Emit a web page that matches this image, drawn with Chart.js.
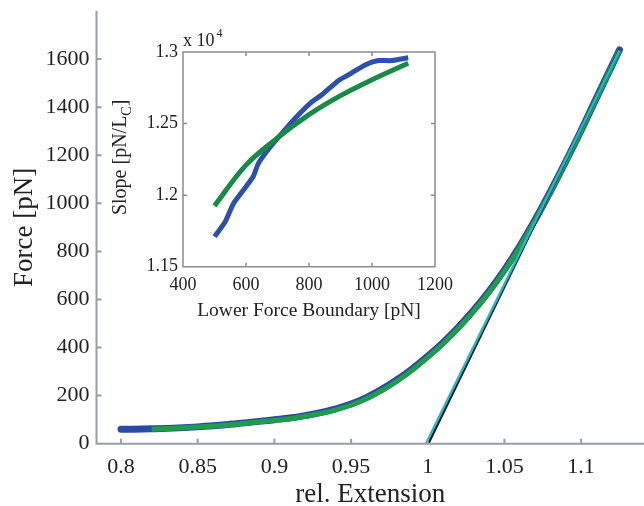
<!DOCTYPE html>
<html>
<head>
<meta charset="utf-8">
<script src="https://cdn.jsdelivr.net/npm/chart.js@4.4.1/dist/chart.umd.min.js"></script>
<style>
body { margin: 0; background: #fff; }
#wrap { position: relative; width: 644px; height: 506px; }
#main { position: absolute; left: 0; top: 0; }
#inset { position: absolute; left: 100px; top: 20px; }
</style>
</head>
<body>
<div id="wrap">
<canvas id="main" width="644" height="506"></canvas>
<canvas id="inset" width="365" height="310"></canvas>
</div>
<script>
// main plot: force vs relative extension
var extData = [0.80, 0.82, 0.85, 0.875, 0.90, 0.91, 0.92, 0.93, 0.94, 0.95, 0.96, 0.97, 0.98, 0.99, 1.00, 1.01, 1.02, 1.03, 1.04, 1.05, 1.06, 1.07, 1.08, 1.09, 1.10, 1.11, 1.125];
var forceData = [60, 62, 70, 83, 100, 107, 117, 129, 145, 165, 192, 226, 266, 312, 364, 421, 485, 556, 635, 723, 822, 932, 1050, 1174, 1303, 1438, 1638];
var extFit = [0.82, 0.85, 0.875, 0.90, 0.91, 0.92, 0.93, 0.94, 0.95, 0.96, 0.97, 0.98, 0.99, 1.00, 1.01, 1.02, 1.03, 1.04, 1.05, 1.06, 1.07, 1.08, 1.09, 1.10, 1.11, 1.125];
var forceFit = [61, 69, 81, 97, 104, 114, 126, 141, 161, 187, 221, 261, 307, 359, 416, 480, 551, 630, 718, 818, 929, 1047, 1172, 1302, 1437, 1636];
var extLinCyan = [0.9988, 1.125];
var forceLinCyan = [0, 1637];
var extLinBlack = [1.0003, 1.125];
var forceLinBlack = [0, 1640];
var mainXTicks = [0.8, 0.85, 0.9, 0.95, 1, 1.05, 1.1];
var mainYTicks = [0, 200, 400, 600, 800, 1000, 1200, 1400, 1600];

// inset: slope vs lower force boundary (x 10^4)
var boundData = [500, 533, 560, 597, 623, 639, 671, 713, 766, 808, 840, 893, 925, 978, 1020, 1062, 1115];
var slopeData = [1.171, 1.181, 1.194, 1.205, 1.213, 1.222, 1.232, 1.243, 1.256, 1.265, 1.270, 1.280, 1.284, 1.291, 1.294, 1.294, 1.296];
var boundFit = [500, 600, 700, 800, 900, 1000, 1115];
var slopeFit = [1.1925, 1.221, 1.240, 1.2562, 1.2695, 1.2806, 1.2921];
var insetXTicks = [400, 600, 800, 1000, 1200];
var insetYTicks = [1.15, 1.2, 1.25, 1.3];

var serif = '"Liberation Serif", "Times New Roman", serif';

function pts(xs, ys) {
    return xs.map(function (x, i) { return { x: x, y: ys[i] }; });
}

// axis lines + inward tick marks, matlab style
var axesLines = {
    id: 'axesLines',
    afterDatasetsDraw: function (chart, args, o) {
        var ctx = chart.ctx, a = chart.chartArea, sx = chart.scales.x, sy = chart.scales.y;
        ctx.save();
        ctx.strokeStyle = o.color;
        ctx.lineWidth = o.width;
        ctx.beginPath();
        if (o.box) {
            ctx.rect(a.left, a.top, a.right - a.left, a.bottom - a.top);
        } else {
            ctx.moveTo(a.left, a.top);
            ctx.lineTo(a.left, a.bottom);
            ctx.lineTo(a.right, a.bottom);
        }
        sx.ticks.forEach(function (t) {
            var px = sx.getPixelForValue(t.value);
            ctx.moveTo(px, a.bottom); ctx.lineTo(px, a.bottom - o.tick);
            if (o.box) { ctx.moveTo(px, a.top); ctx.lineTo(px, a.top + o.tick); }
        });
        sy.ticks.forEach(function (t) {
            var py = sy.getPixelForValue(t.value);
            ctx.moveTo(a.left, py); ctx.lineTo(a.left + o.tick, py);
            if (o.box) { ctx.moveTo(a.right, py); ctx.lineTo(a.right - o.tick, py); }
        });
        ctx.stroke();
        ctx.restore();
    }
};

// exponent and y label with subscript for the inset
var insetLabels = {
    id: 'insetLabels',
    afterDraw: function (chart) {
        var ctx = chart.ctx, a = chart.chartArea;
        ctx.save();
        ctx.fillStyle = '#222';
        ctx.textBaseline = 'alphabetic';
        ctx.font = '18px ' + serif;
        ctx.fillText('x 10', a.left, a.top - 6);
        var w = ctx.measureText('x 10').width;
        ctx.font = '12px ' + serif;
        ctx.fillText('4', a.left + w + 2, a.top - 15);

        var big = '20px ' + serif, small = '14px ' + serif;
        ctx.font = big;
        var w1 = ctx.measureText('Slope [pN/L').width;
        var w3 = ctx.measureText(']').width;
        ctx.font = small;
        var w2 = ctx.measureText('C').width;
        ctx.translate(a.left - 57, (a.top + a.bottom) / 2 - 2);
        ctx.rotate(-Math.PI / 2);
        var x = -(w1 + w2 + w3) / 2;
        ctx.font = big; ctx.fillText('Slope [pN/L', x, 0); x += w1;
        ctx.font = small; ctx.fillText('C', x, 5); x += w2;
        ctx.font = big; ctx.fillText(']', x, 0);
        ctx.restore();
    }
};

function fixTicks(arr) {
    return function (scale) {
        scale.ticks = arr.map(function (v) { return { value: v }; });
    };
}

function fixSize(prop, size) {
    return function (scale) {
        scale[prop] = size;
        scale.paddingLeft = 0; scale.paddingRight = 0;
        scale.paddingTop = 0; scale.paddingBottom = 0;
    };
}

var ctx = document.getElementById('main').getContext('2d');
var mainChart = new Chart(ctx, {
    type: 'line',
    data: {
        datasets: [{
            data: pts(extData, forceData),
            borderColor: '#2b4aa6',
            borderWidth: 7,
            borderCapStyle: 'round',
            borderJoinStyle: 'round',
            tension: 0.4,
            pointRadius: 0,
            order: 3
        }, {
            data: pts(extFit, forceFit),
            borderColor: '#1f9e4a',
            borderWidth: 5,
            tension: 0.4,
            pointRadius: 0,
            order: 2
        }, {
            data: pts(extLinBlack, forceLinBlack),
            borderColor: '#111',
            borderWidth: 2.5,
            pointRadius: 0,
            order: 1
        }, {
            data: pts(extLinCyan, forceLinCyan),
            borderColor: '#22b8cc',
            borderWidth: 2.5,
            pointRadius: 0,
            order: 0
        }]
    },
    options: {
        responsive: false,
        animation: false,
        layout: { padding: { top: 11, right: 0, left: 0, bottom: 0 } },
        plugins: {
            legend: { display: false },
            tooltip: { enabled: false },
            axesLines: { color: '#9a9da2', width: 2, tick: 5, box: false }
        },
        scales: {
            x: {
                type: 'linear',
                min: 0.784,
                max: 1.141,
                afterBuildTicks: fixTicks(mainXTicks),
                afterFit: fixSize('height', 62.3),
                grid: { display: false, drawTicks: false },
                border: { display: false },
                ticks: {
                    color: '#222', padding: 10, maxRotation: 0, autoSkip: false,
                    font: { family: serif, size: 22 },
                    callback: function (v) { return String(v); }
                },
                title: {
                    display: true, text: 'rel. Extension', color: '#222',
                    font: { family: serif, size: 27, lineHeight: 0.85 },
                    padding: { top: 0, bottom: 0 }
                }
            },
            y: {
                type: 'linear',
                min: 0,
                max: 1800,
                afterBuildTicks: fixTicks(mainYTicks),
                afterFit: fixSize('width', 96.5),
                grid: { display: false, drawTicks: false },
                border: { display: false },
                ticks: {
                    color: '#222', padding: 7, autoSkip: false,
                    font: { family: serif, size: 22 },
                    callback: function (v) { return String(v); }
                },
                title: {
                    display: true, text: 'Force [pN]', color: '#222',
                    font: { family: serif, size: 27, lineHeight: 1 },
                    padding: { top: 11, bottom: 0 }
                }
            }
        }
    },
    plugins: [axesLines]
});

var ctxI = document.getElementById('inset').getContext('2d');
var insetChart = new Chart(ctxI, {
    type: 'line',
    data: {
        datasets: [{
            data: pts(boundData, slopeData),
            borderColor: '#2c50ac',
            borderWidth: 5,
            borderJoinStyle: 'round',
            tension: 0.2,
            pointRadius: 0,
            order: 1
        }, {
            data: pts(boundFit, slopeFit),
            borderColor: '#178a45',
            borderWidth: 5,
            tension: 0.4,
            pointRadius: 0,
            order: 0
        }]
    },
    options: {
        responsive: false,
        animation: false,
        layout: { padding: { top: 32, right: 30, left: 0, bottom: 0 } },
        plugins: {
            legend: { display: false },
            tooltip: { enabled: false },
            axesLines: { color: '#8c8c8c', width: 1.5, tick: 4, box: true }
        },
        scales: {
            x: {
                type: 'linear',
                min: 400,
                max: 1200,
                afterBuildTicks: fixTicks(insetXTicks),
                afterFit: fixSize('height', 63.3),
                grid: { display: false, drawTicks: false },
                border: { display: false },
                ticks: {
                    color: '#222', padding: 8, maxRotation: 0, autoSkip: false,
                    font: { family: serif, size: 18 },
                    callback: function (v) { return String(v); }
                },
                title: {
                    display: true, text: 'Lower Force Boundary [pN]', color: '#222',
                    font: { family: serif, size: 19.5, lineHeight: 1 },
                    padding: { top: 0, bottom: 9 }
                }
            },
            y: {
                type: 'linear',
                min: 1.15,
                max: 1.3,
                afterBuildTicks: fixTicks(insetYTicks),
                afterFit: fixSize('width', 83),
                grid: { display: false, drawTicks: false },
                border: { display: false },
                ticks: {
                    color: '#222', padding: 5, autoSkip: false,
                    font: { family: serif, size: 18 },
                    callback: function (v) { return String(v); }
                }
            }
        }
    },
    plugins: [axesLines, insetLabels]
});
</script>
</body>
</html>
